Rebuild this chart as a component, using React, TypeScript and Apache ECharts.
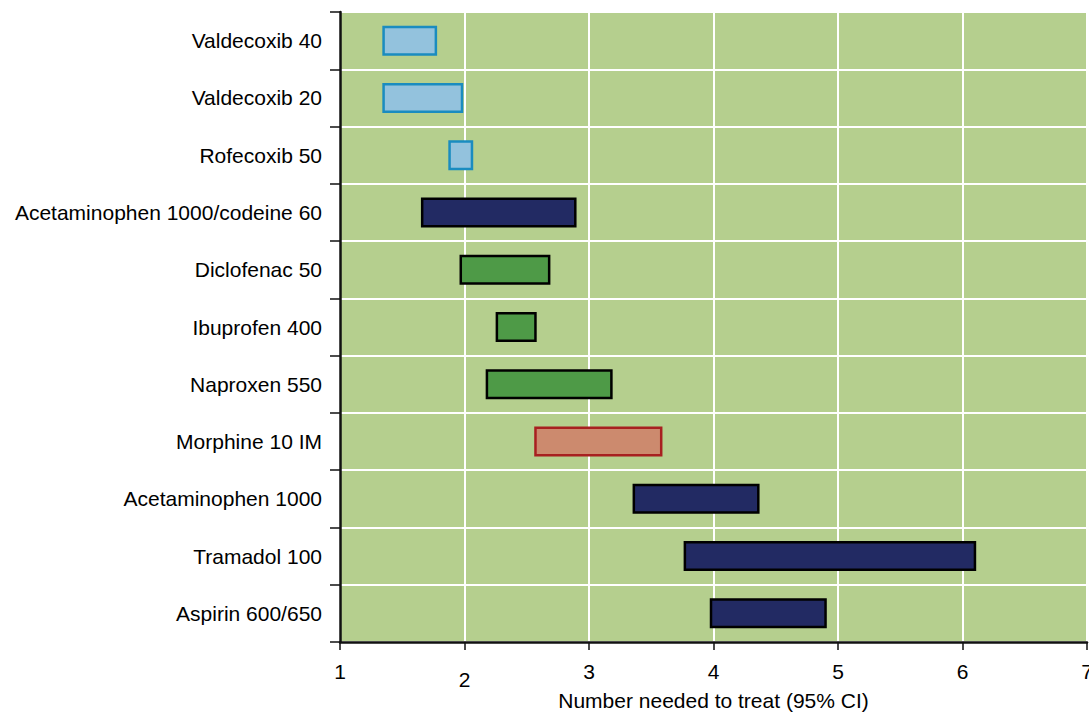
import React, { useEffect, useRef } from "react";
import * as echarts from "echarts";

const categories = [
  "Valdecoxib 40",
  "Valdecoxib 20",
  "Rofecoxib 50",
  "Acetaminophen 1000/codeine 60",
  "Diclofenac 50",
  "Ibuprofen 400",
  "Naproxen 550",
  "Morphine 10 IM",
  "Acetaminophen 1000",
  "Tramadol 100",
  "Aspirin 600/650",
];
const lowerCI = [1.34, 1.34, 1.87, 1.65, 1.96, 2.25, 2.17, 2.56, 3.35, 3.76, 3.97];
const upperCI = [1.78, 1.99, 2.07, 2.9, 2.69, 2.58, 3.19, 3.59, 4.37, 6.11, 4.91];
const groups = ["cox2", "cox2", "cox2", "opioidCombo", "nsaid", "nsaid", "nsaid", "morphine", "opioidCombo", "opioidCombo", "opioidCombo"];
const xTicks = [1, 2, 3, 4, 5, 6, 7];

const groupStyles: Record<string, { color: string; borderColor: string }> = {
  cox2: { color: "#93c2dd", borderColor: "#1a8cc0" },
  opioidCombo: { color: "#222a63", borderColor: "#000000" },
  nsaid: { color: "#4e9a47", borderColor: "#000000" },
  morphine: { color: "#cc8a6e", borderColor: "#a82020" },
};

const FONT = "'Liberation Sans', Arial, Helvetica, sans-serif";
const FS = 21;

export default function App() {
  const ref = useRef<HTMLDivElement>(null);
  useEffect(() => {
    document.body.style.margin = "0";
    const chart = echarts.init(ref.current!, null, { renderer: "svg" });
    chart.setOption({
      animation: false,
      textStyle: { fontFamily: FONT },
      grid: {
        left: 340,
        right: 2,
        top: 12,
        bottom: 72,
        show: true,
        backgroundColor: "#b5cf8e",
        borderWidth: 0,
        containLabel: false,
        outerBoundsMode: "none",
      },
      xAxis: {
        type: "value",
        min: xTicks[0],
        max: xTicks[xTicks.length - 1],
        interval: 1,
        name: "Number needed to treat (95% CI)",
        nameLocation: "middle",
        nameGap: 48,
        nameMoveOverlap: false,
        nameTextStyle: { fontSize: FS, color: "#000", fontFamily: FONT },
        axisLine: { show: true, lineStyle: { color: "#111", width: 2.5 } },
        axisTick: { show: true, length: 8, lineStyle: { color: "#111", width: 1.5 } },
        axisLabel: {
          margin: 19,
          fontSize: FS,
          color: "#000",
          fontFamily: FONT,
          formatter: (v: number) => (v === 2 ? "{low|" + v + "}" : "{n|" + v + "}"),
          rich: {
            n: { fontSize: FS, color: "#000", fontFamily: FONT },
            low: { fontSize: FS, color: "#000", fontFamily: FONT, padding: [8, 0, 0, 0] },
          },
        },
        splitLine: { show: true, lineStyle: { color: "#ffffff", width: 2 } },
      },
      yAxis: {
        type: "category",
        data: categories,
        inverse: true,
        axisLine: { show: true, lineStyle: { color: "#111", width: 2.5 } },
        axisTick: { show: true, length: 10, alignWithLabel: false, lineStyle: { color: "#111", width: 1.5 } },
        axisLabel: { margin: 18, fontSize: FS, color: "#000", fontFamily: FONT },
        splitLine: { show: true, lineStyle: { color: "#ffffff", width: 2 } },
      },
      series: [
        {
          type: "bar",
          stack: "ci",
          silent: true,
          barWidth: 30,
          itemStyle: { color: "transparent", borderWidth: 0 },
          data: lowerCI,
        },
        {
          type: "bar",
          stack: "ci",
          barWidth: 30,
          data: upperCI.map((u, i) => ({
            value: +(u - lowerCI[i]).toFixed(3),
            itemStyle: {
              color: groupStyles[groups[i]].color,
              borderColor: groupStyles[groups[i]].borderColor,
              borderWidth: 2.5,
            },
          })),
        },
      ],
    });
    return () => chart.dispose();
  }, []);
  return <div ref={ref} style={{ width: 1089, height: 714 }} />;
}
